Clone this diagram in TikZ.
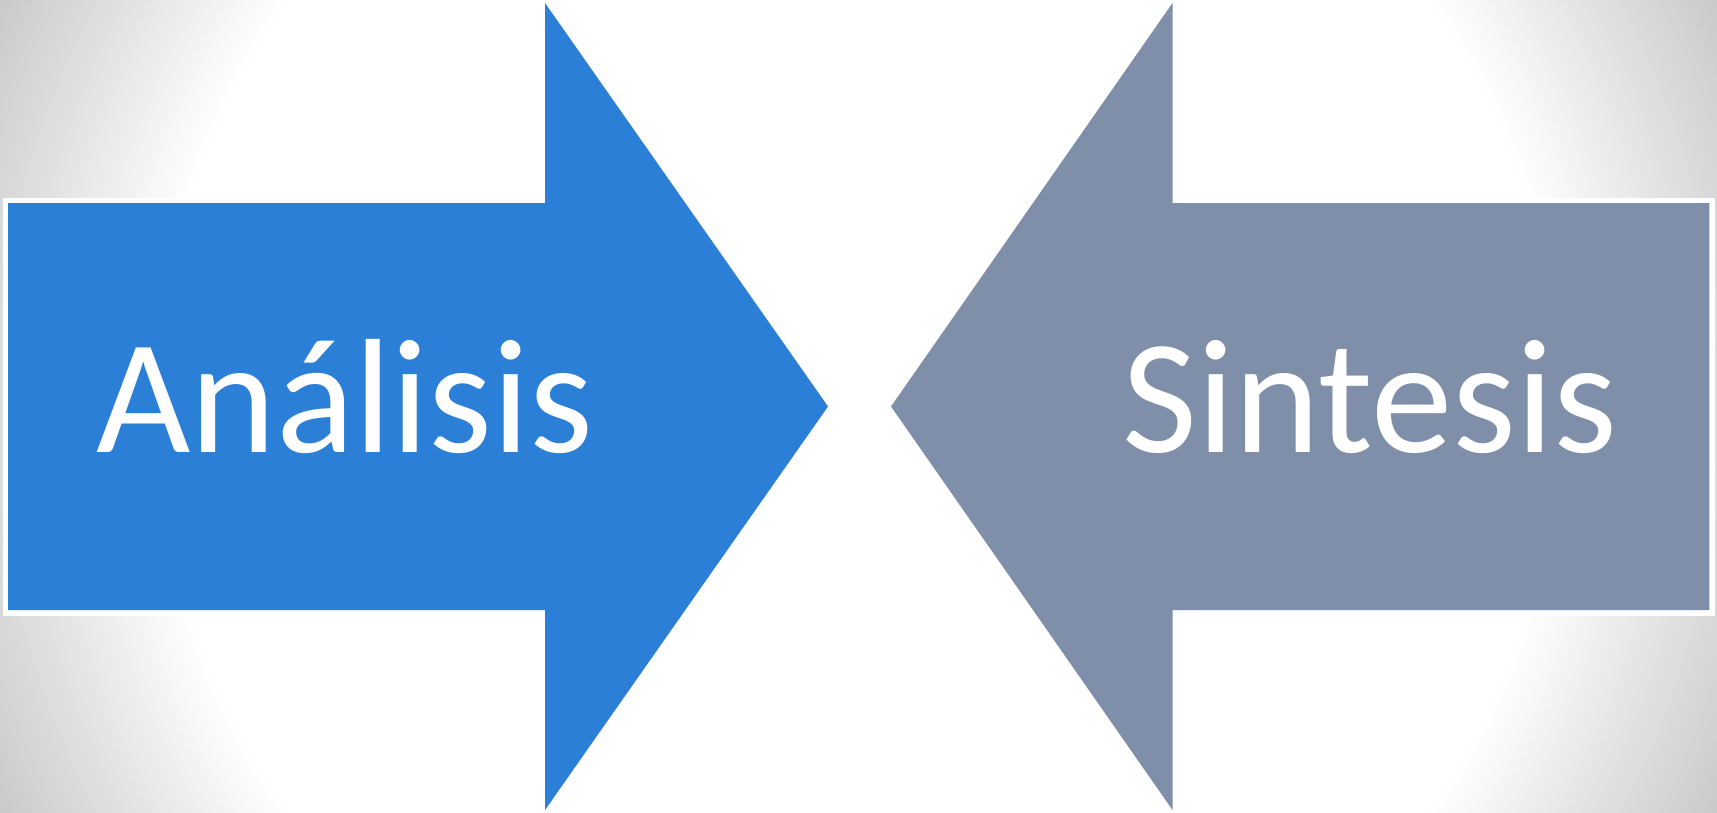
\documentclass[tikz,border=0pt]{standalone}
\usepackage{fontspec}
\setmainfont{Carlito}
\usepackage{tikz}
\definecolor{bggray}{RGB}{200,200,200}
\definecolor{anblue}{RGB}{43,127,214}
\definecolor{sigray}{RGB}{128,143,169}

\begin{document}
\begin{tikzpicture}[x=0.5pt,y=0.5pt,yscale=-1,xscale=1,
  lbl/.style={text=white, inner sep=0.75pt, anchor=base, font=\fontsize{81.5}{98}\selectfont}]
\useasboundingbox (0,0) rectangle (1717,813);
% background glow, grey corners fading to white
\begin{scope}
\clip (0,0) rectangle (1717,813);
\fill [bggray] (0,0) rectangle (1717,813);
\foreach \i [evaluate=\i as \r using 960-5*\i, evaluate=\i as \p using 100-100*\i/52] in {0,...,52}
  \fill [bggray!\p!white] (858.5,406.5) circle (\r);
\end{scope}
% white frame behind the shafts
\draw [white, line width=2.6pt] (5.5,200.5) rectangle (1712.5,613) ;
% left arrow
\fill [anblue] (8,203) -- (545,203) -- (545,3) -- (828,406.5) -- (545,810) -- (545,610) -- (8,610) -- cycle ;
% right arrow
\fill [sigray] (1709,203) -- (1172.5,203) -- (1172.5,3) -- (891,406.5) -- (1172.5,810) -- (1172.5,610) -- (1709,610) -- cycle ;
\draw (345,452.7) node (analisis) [lbl] {Análisis};
\draw (1370,452.7) node (sintesis) [lbl] {Sintesis};
\end{tikzpicture}
\end{document}
